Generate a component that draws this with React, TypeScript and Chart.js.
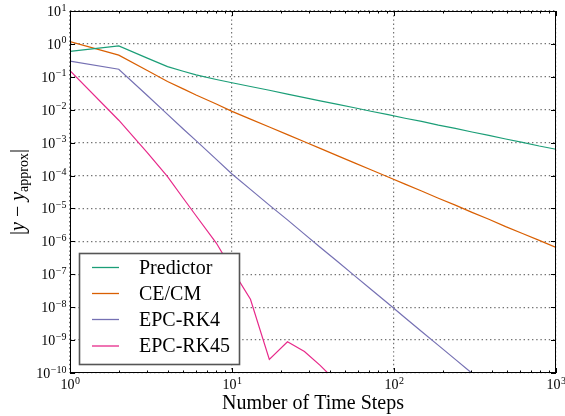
import React, { useEffect, useRef } from 'react';
import { Chart, registerables } from 'chart.js';

Chart.register(...registerables);

// Number of time steps (x)
const steps = [1, 2, 3, 4, 5, 6, 8, 10, 13, 17, 22, 28, 35, 45, 57, 72, 92, 117, 148, 188, 239, 303, 385, 489, 621, 788, 1000];

// |y - y_approx| for each method
const predictor = [5.9e-1, 8.7e-1, 3.7e-1, 2.04e-1, 1.48e-1, 1.15e-1, 8.3e-2, 6.6e-2, 5.07e-2, 3.9e-2, 2.99e-2, 2.34e-2, 1.86e-2, 1.45e-2, 1.15e-2, 9.0e-3, 7.1e-3, 5.5e-3, 4.4e-3, 3.4e-3, 2.7e-3, 2.1e-3, 1.66e-3, 1.29e-3, 1.02e-3, 7.9e-4, 6.3e-4];
const cecm = [1.17, 4.57e-1, 1.55e-1, 7.2e-2, 4.3e-2, 2.8e-2, 1.5e-2, 8.9e-3, 5.2e-3, 2.98e-3, 1.75e-3, 1.06e-3, 6.7e-4, 3.96e-4, 2.43e-4, 1.5e-4, 9.0e-5, 5.5e-5, 3.4e-5, 2.05e-5, 1.26e-5, 7.6e-6, 4.7e-6, 2.8e-6, 1.74e-6, 1.07e-6, 6.5e-7];
const rk4 = [3.0e-1, 1.7e-1, 2.7e-2, 7.2e-3, 2.6e-3, 1.15e-3, 3.1e-4, 1.12e-4, 3.8e-5, 1.26e-5, 4.5e-6, 1.66e-6, 6.6e-7, 2.4e-7, 9.1e-8, 3.5e-8, 1.29e-8, 4.8e-9, 1.82e-9, 6.9e-10, 2.6e-10, 9.8e-11, 3.6e-11, 1.38e-11, 5.1e-12, 1.95e-12, 7.2e-13];
const rk45 = [1.55e-1, 4.8e-3, 5.0e-4, 9.3e-5, 2.04e-5, 6.0e-6, 8.9e-7, 1.41e-7, 1.74e-8, 2.6e-10, 8.9e-10, 4.5e-10, 1.7e-10, 5.0e-11, 2.1e-11, 8.0e-12, 5.0e-12, 3.0e-12, 2.0e-12, 1.5e-12, 1.2e-12, 1.0e-12, 9.0e-13, 8.0e-13, 7.0e-13, 6.0e-13, 5.0e-13];

const seriesLabels = ['Predictor', 'CE/CM', 'EPC-RK4', 'EPC-RK45'];
const seriesColors = ['#1b9e77', '#d95f02', '#7570b3', '#e7298a'];

// Axis ticks (decades) and their exponent labels
const xTickValues = [1, 10, 100, 1000];
const xTickExponents = ['0', '1', '2', '3'];
const yTickValues = [1e-10, 1e-9, 1e-8, 1e-7, 1e-6, 1e-5, 1e-4, 1e-3, 1e-2, 1e-1, 1e0, 1e1];
const yTickExponents = ['−10', '−9', '−8', '−7', '−6', '−5', '−4', '−3', '−2', '−1', '0', '1'];
const xMinorMultipliers = [2, 3, 4, 5, 6, 7, 8, 9];

const xTitle = 'Number of Time Steps';

const SERIF = '"Liberation Serif", "Times New Roman", serif';

function drawPow(ctx: CanvasRenderingContext2D, exp: string, x: number, base: number, align: 'right' | 'center') {
  ctx.font = `14px ${SERIF}`;
  const w1 = ctx.measureText('10').width;
  ctx.font = `10px ${SERIF}`;
  const w2 = ctx.measureText(exp).width;
  const x0 = align === 'right' ? x - w1 - w2 : x - (w1 + w2) / 2;
  ctx.textAlign = 'left';
  ctx.textBaseline = 'alphabetic';
  ctx.fillStyle = '#000';
  ctx.font = `14px ${SERIF}`;
  ctx.fillText('10', x0, base);
  ctx.font = `10px ${SERIF}`;
  ctx.fillText(exp, x0 + w1 + 0.5, base - 5.5);
}

const decorPlugin = {
  id: 'decor',
  afterDatasetsDraw(chart: any) {
    const ctx: CanvasRenderingContext2D = chart.ctx;
    const { left, right, top, bottom } = chart.chartArea;
    const xs = chart.scales.x;
    const ys = chart.scales.y;
    ctx.save();

    // frame
    ctx.strokeStyle = '#000';
    ctx.lineWidth = 1;
    ctx.strokeRect(Math.round(left) + 0.5, Math.round(top) + 0.5, Math.round(right - left) - 1, Math.round(bottom - top) - 1);

    // inward ticks on x (major + minor), top and bottom
    ctx.beginPath();
    xTickValues.forEach((v) => {
      const px = Math.round(xs.getPixelForValue(v)) + 0.5;
      ctx.moveTo(px, bottom); ctx.lineTo(px, bottom - 5);
      ctx.moveTo(px, top); ctx.lineTo(px, top + 5);
    });
    xTickValues.slice(0, -1).forEach((d) => {
      xMinorMultipliers.forEach((m) => {
        const px = Math.round(xs.getPixelForValue(d * m)) + 0.5;
        ctx.moveTo(px, bottom); ctx.lineTo(px, bottom - 2.5);
        ctx.moveTo(px, top); ctx.lineTo(px, top + 2.5);
      });
    });
    yTickValues.forEach((v) => {
      const py = Math.round(ys.getPixelForValue(v)) + 0.5;
      ctx.moveTo(left, py); ctx.lineTo(left + 5, py);
      ctx.moveTo(right, py); ctx.lineTo(right - 5, py);
    });
    ctx.stroke();

    // tick labels
    xTickValues.forEach((v, i) => {
      drawPow(ctx, xTickExponents[i], xs.getPixelForValue(v), bottom + 16, 'center');
    });
    yTickValues.forEach((v, i) => {
      drawPow(ctx, yTickExponents[i], left - 4, ys.getPixelForValue(v) + 5, 'right');
    });

    // x title
    ctx.font = `20px ${SERIF}`;
    ctx.textAlign = 'center';
    ctx.textBaseline = 'alphabetic';
    ctx.fillStyle = '#000';
    ctx.fillText(xTitle, (left + right) / 2, 409);

    // y title: |y − y_approx|
    ctx.save();
    ctx.translate(18, (top + bottom) / 2);
    ctx.rotate(-Math.PI / 2);
    const parts = [
      { t: '|', f: `20px ${SERIF}`, dy: 0 },
      { t: 'y', f: `italic 20px ${SERIF}`, dy: 0 },
      { t: ' − ', f: `20px ${SERIF}`, dy: 0 },
      { t: 'y', f: `italic 20px ${SERIF}`, dy: 0 },
      { t: 'approx', f: `14px ${SERIF}`, dy: 4 },
      { t: '|', f: `20px ${SERIF}`, dy: 0 },
    ];
    let total = 0;
    const widths = parts.map((p) => { ctx.font = p.f; const w = ctx.measureText(p.t).width; total += w; return w; });
    let cx = -total / 2;
    ctx.textAlign = 'left';
    parts.forEach((p, i) => {
      ctx.font = p.f;
      ctx.fillText(p.t, cx, 6 + p.dy);
      cx += widths[i];
    });
    ctx.restore();

    // legend
    const lx = 79.5, ly = 253.5, lw = 160, lh = 111;
    ctx.fillStyle = '#fff';
    ctx.fillRect(lx, ly, lw, lh);
    ctx.strokeStyle = '#555';
    ctx.lineWidth = 1.6;
    ctx.strokeRect(lx, ly, lw, lh);
    const rowY = [267.5, 293.5, 319.5, 346];
    chart.data.datasets.forEach((ds: any, i: number) => {
      const yy = rowY[i];
      ctx.strokeStyle = ds.borderColor;
      ctx.lineWidth = 1.3;
      ctx.beginPath();
      ctx.moveTo(92, yy); ctx.lineTo(119, yy);
      ctx.stroke();
      ctx.fillStyle = '#000';
      ctx.font = `20px ${SERIF}`;
      ctx.textAlign = 'left';
      ctx.textBaseline = 'middle';
      ctx.fillText(ds.label, 139, yy + 1);
    });

    ctx.restore();
  },
};

export default function App() {
  const ref = useRef<HTMLCanvasElement>(null);
  useEffect(() => {
    if (!ref.current) return;
    const series = [predictor, cecm, rk4, rk45];
    const chart = new Chart(ref.current, {
      type: 'line',
      data: {
        datasets: series.map((vals, i) => ({
          label: seriesLabels[i],
          data: steps.map((s, j) => ({ x: s, y: vals[j] })),
          borderColor: seriesColors[i],
          backgroundColor: seriesColors[i],
          borderWidth: 1.2,
          pointRadius: 0,
          tension: 0,
          fill: false,
        })),
      },
      options: {
        responsive: false,
        animation: false,
        layout: { padding: { left: 70, right: 9, top: 11, bottom: 43 } },
        plugins: { legend: { display: false }, tooltip: { enabled: false } },
        scales: {
          x: {
            type: 'logarithmic',
            min: 1,
            max: 1000,
            afterBuildTicks: (scale: any) => { scale.ticks = xTickValues.map((v) => ({ value: v })); },
            ticks: { display: false },
            grid: { drawTicks: false, color: 'rgba(0,0,0,0.55)', lineWidth: 1.2 },
            border: { display: false, dash: [1.4, 2.8] },
          },
          y: {
            type: 'logarithmic',
            min: 1e-10,
            max: 10,
            afterBuildTicks: (scale: any) => { scale.ticks = yTickValues.map((v) => ({ value: v })); },
            ticks: { display: false },
            grid: { drawTicks: false, color: 'rgba(0,0,0,0.55)', lineWidth: 1.2 },
            border: { display: false, dash: [1.4, 2.8] },
          },
        },
      } as any,
      plugins: [decorPlugin],
    });
    return () => chart.destroy();
  }, []);
  return (
    <div style={{ position: 'absolute', left: 0, top: 0, width: 565, height: 416, background: '#fff' }}>
      <canvas ref={ref} width={565} height={416} style={{ display: 'block' }} />
    </div>
  );
}
